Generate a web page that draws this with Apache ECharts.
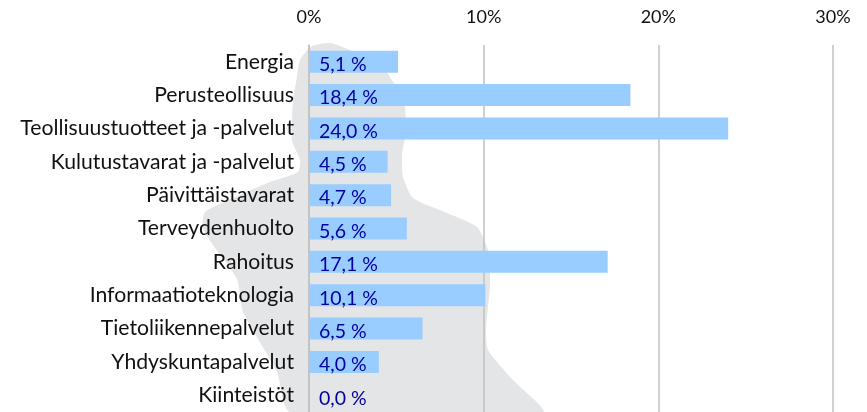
<!DOCTYPE html>
<html>
<head>
<meta charset="utf-8">
<style>
html, body { margin: 0; padding: 0; background: #fff; }
#container { width: 867px; height: 412px; }
</style>
<script src="https://cdn.jsdelivr.net/npm/echarts@6/dist/echarts.min.js"></script>
</head>
<body>
<div id="container"></div>
<script>
var categories = ['Energia', 'Perusteollisuus', 'Teollisuustuotteet ja -palvelut', 'Kulutustavarat ja -palvelut',
    'Päivittäistavarat', 'Terveydenhuolto', 'Rahoitus', 'Informaatioteknologia',
    'Tietoliikennepalvelut', 'Yhdyskuntapalvelut', 'Kiinteistöt'];
var values = [5.1, 18.4, 24.0, 4.5, 4.7, 5.6, 17.1, 10.1, 6.5, 4.0, 0.0];

// taustan Suomi-siluetti, pikselit
var mapOutline = [[300, 60], [312, 46], [330, 43], [350, 50], [380, 64], [395, 85], [405, 107], [405, 137], [402, 154],
    [403, 177], [413, 198], [447, 213], [477, 227], [488, 250], [490, 285], [486, 330], [488, 350], [513, 380], [543, 412],
    [290, 412], [277, 372], [243, 312], [237, 279], [213, 245], [203, 228], [205, 212], [240, 195], [270, 182],
    [298, 172], [300, 160], [292, 140], [293, 100], [296, 83]];

var font = 'Lato';
var myChart = echarts.init(document.getElementById('container'));
var option = {
    animation: false,
    backgroundColor: '#fff',
    grid: { left: 309, top: 45, width: 524, height: 368.5, containLabel: false },
    graphic: [{
        type: 'polygon',
        z: -1,
        silent: true,
        shape: { points: mapOutline, smooth: 0.2 },
        style: { fill: '#e4e5e7' }
    }],
    xAxis: {
        type: 'value',
        position: 'top',
        min: 0,
        max: 30,
        interval: 10,
        axisLine: { show: false },
        axisTick: { show: false },
        axisLabel: {
            formatter: '{value}%',
            color: '#111',
            fontFamily: font,
            fontSize: 18,
            margin: 19
        },
        splitLine: { show: true, lineStyle: { color: '#c0c0c0', width: 1.5 } }
    },
    yAxis: {
        type: 'category',
        inverse: true,
        data: categories,
        axisLine: { show: true, lineStyle: { color: '#c0c0c0', width: 1.5 } },
        axisTick: { show: false },
        axisLabel: {
            color: '#111',
            fontFamily: font,
            fontSize: 21.2,
            margin: 15,
            padding: [5, 0, 0, 0]
        }
    },
    series: [{
        type: 'bar',
        data: values,
        barWidth: 22,
        itemStyle: { color: '#99ccff' },
        label: {
            show: true,
            position: 'insideLeft',
            distance: 10,
            offset: [0, 3],
            color: '#0000a0',
            fontFamily: font,
            fontSize: 19.5,
            formatter: function (p) { return p.value.toFixed(1).replace('.', ',') + ' %'; }
        }
    }]
};
myChart.setOption(option, true);
</script>
</body>
</html>
